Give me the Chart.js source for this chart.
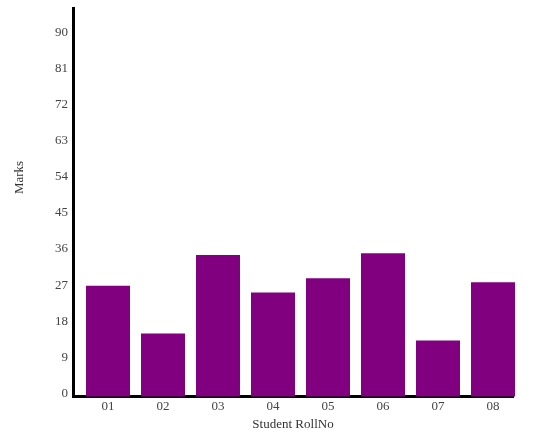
<!DOCTYPE html>
<html>
<head>
<meta charset="utf-8">
<script src="https://cdn.jsdelivr.net/npm/chart.js@4.4.1/dist/chart.umd.min.js"></script>
<style>
  html, body { margin: 0; padding: 0; background: #fff; }
  #wrap { width: 543px; height: 445px; }
</style>
</head>
<body>
<div id="wrap"><canvas id="graficoNotas" width="543" height="445"></canvas></div>
<script>
const rollNos = ["01", "02", "03", "04", "05", "06", "07", "08"];
const marks = [27.6, 15.7, 35.25, 25.9, 29.45, 35.7, 13.95, 28.45];
const yTicks = [0, 9, 18, 27, 36, 45, 54, 63, 72, 81, 90];

const fonte = "'Liberation Serif', 'DejaVu Serif', serif";

// titulo do eixo y fica um pouco acima do centro no original
const tituloY = {
  id: "tituloY",
  afterDraw(chart) {
    const { ctx, chartArea } = chart;
    ctx.save();
    ctx.translate(19.5, (chartArea.top + chartArea.bottom) / 2 - 25);
    ctx.rotate(-Math.PI / 2);
    ctx.font = "13px " + fonte;
    ctx.fillStyle = "#333";
    ctx.textAlign = "center";
    ctx.textBaseline = "middle";
    ctx.fillText("Marks", 0, 0);
    ctx.restore();
  }
};

const ctx = document.getElementById("graficoNotas").getContext("2d");

new Chart(ctx, {
  type: "bar",
  data: {
    datasets: [{
      label: "Marks",
      data: marks.map((v, i) => ({ x: i, y: v })),
      backgroundColor: "#800080",
      borderWidth: 0,
      barPercentage: 0.8,
      categoryPercentage: 1,
      clip: false
    }]
  },
  options: {
    responsive: false,
    animation: false,
    layout: { padding: { left: 0, right: 30, top: 8.5, bottom: 0 } },
    plugins: {
      legend: { display: false },
      tooltip: { enabled: false }
    },
    scales: {
      x: {
        type: "linear",
        offset: false,
        min: -35 / 55,
        max: -35 / 55 + 8,
        afterBuildTicks: s => { s.ticks = rollNos.map((_, i) => ({ value: i })); },
        afterFit: s => { s.height = 48.5; s.paddingLeft = 0; s.paddingRight = 0; },
        grid: { display: false, drawTicks: false, offset: false },
        border: { display: true, color: "#000", width: 3 },
        ticks: {
          padding: 2,
          maxRotation: 0,
          autoSkip: false,
          color: "#444",
          font: { family: fonte, size: 13 },
          callback: v => rollNos[v]
        },
        title: {
          display: true,
          text: "Student RollNo",
          color: "#333",
          font: { family: fonte, size: 13 },
          padding: { top: 0, bottom: 13 }
        }
      },
      y: {
        min: 0,
        max: 96.7,
        afterBuildTicks: s => { s.ticks = yTicks.map(v => ({ value: v })); },
        afterFit: s => { s.width = 73; s.paddingTop = 0; s.paddingBottom = 0; },
        grid: { display: false, drawTicks: false },
        border: { display: true, color: "#000", width: 3 },
        ticks: {
          padding: 5,
          labelOffset: -3,
          color: "#444",
          font: { family: fonte, size: 13 }
        }
      }
    }
  },
  plugins: [tituloY]
});
</script>
</body>
</html>
